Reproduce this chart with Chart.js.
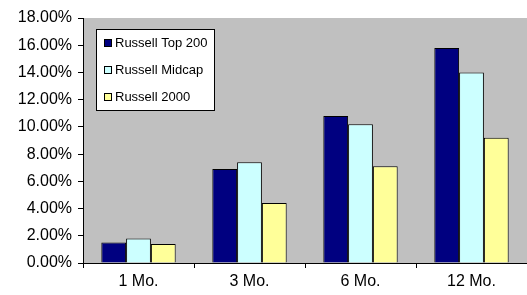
<!DOCTYPE html>
<html>
<head>
<meta charset="utf-8">
<script src="https://cdn.jsdelivr.net/npm/chart.js@4.4.1/dist/chart.umd.min.js"></script>
<style>
  html, body { margin: 0; padding: 0; background: #fff; }
  #wrap { width: 527px; height: 295px; }
</style>
</head>
<body>
<div id="wrap"><canvas id="chart" width="527" height="295"></canvas></div>
<script>
// chart data
const categories = ['1 Mo.', '3 Mo.', '6 Mo.', '12 Mo.'];
const seriesNames = ['Russell Top 200', 'Russell Midcap', 'Russell 2000'];
const top200 = [1.5, 6.9, 10.8, 15.8];
const midcap = [1.8, 7.4, 10.2, 14.0];
const r2000 = [1.4, 4.4, 7.1, 9.2];
const seriesColors = ['#000080', '#CCFFFF', '#FFFF99'];
const yTicksMax = 18;
const yTicksStep = 2;

const FONT = 'Liberation Sans, Arial, sans-serif';

// grey plot area, like the old Excel charts
const plotBackground = {
  id: 'plotBackground',
  beforeDraw(chart) {
    const a = chart.chartArea;
    const ctx = chart.ctx;
    ctx.save();
    ctx.fillStyle = '#C0C0C0';
    ctx.fillRect(a.left, a.top, chart.width - a.left, a.bottom - a.top);
    ctx.restore();
  }
};

// boxed legend drawn inside the plot area
const boxLegend = {
  id: 'boxLegend',
  afterDraw(chart) {
    const ctx = chart.ctx;
    const a = chart.chartArea;
    const x = a.left + 13, y = a.top + 11, w = 118, h = 81;
    ctx.save();
    ctx.fillStyle = '#fff';
    ctx.fillRect(x, y, w, h);
    ctx.strokeStyle = '#000';
    ctx.lineWidth = 1;
    ctx.strokeRect(x + 0.5, y + 0.5, w, h);
    ctx.font = '13px ' + FONT;
    ctx.textBaseline = 'middle';
    chart.data.datasets.forEach((ds, i) => {
      const cy = y + 14 + i * 27;
      ctx.fillStyle = ds.backgroundColor;
      ctx.fillRect(x + 8, cy - 4, 7, 7);
      ctx.strokeStyle = '#000';
      ctx.strokeRect(x + 8.5, cy - 3.5, 7, 7);
      ctx.fillStyle = '#000';
      ctx.fillText(ds.label, x + 19, cy);
    });
    ctx.restore();
  }
};

const series = [top200, midcap, r2000];

new Chart(document.getElementById('chart'), {
  type: 'bar',
  data: {
    labels: categories,
    datasets: series.map((vals, i) => ({
      label: seriesNames[i],
      data: vals,
      backgroundColor: seriesColors[i],
      borderColor: '#000',
      borderWidth: 1,
      borderSkipped: 'bottom',
      categoryPercentage: 0.67,
      barPercentage: 1.0
    }))
  },
  plugins: [plotBackground, boxLegend],
  options: {
    responsive: false,
    animation: false,
    layout: { padding: { top: 18, right: -3, left: 0, bottom: 0 } },
    plugins: {
      legend: { display: false },
      tooltip: { enabled: false }
    },
    scales: {
      x: {
        offset: true,
        grid: {
          offset: true,
          drawOnChartArea: false,
          color: '#000',
          tickLength: 5
        },
        border: { color: '#000', width: 1 },
        ticks: {
          color: '#000',
          font: { family: FONT, size: 16 },
          padding: 4
        },
        afterFit(scale) { scale.height = 32; }
      },
      y: {
        min: 0,
        max: yTicksMax,
        grid: {
          drawOnChartArea: false,
          color: '#000',
          tickLength: 5
        },
        border: { color: '#000', width: 1 },
        ticks: {
          stepSize: yTicksStep,
          color: '#000',
          font: { family: FONT, size: 16 },
          padding: 6,
          callback: v => v.toFixed(2) + '%'
        },
        afterFit(scale) { scale.width = 83; }
      }
    }
  }
});
</script>
</body>
</html>
